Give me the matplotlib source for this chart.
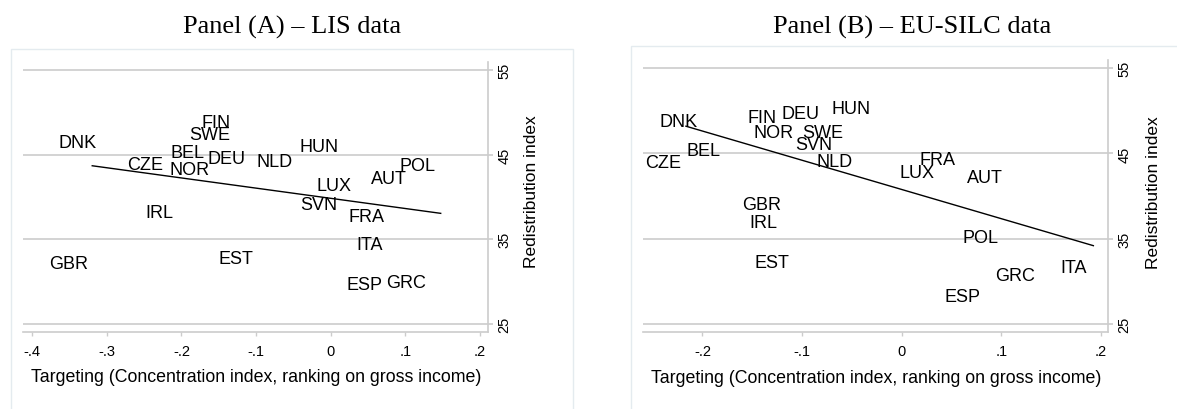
'''
Targeting vs redistribution index, LIS and EU-SILC panels.
'''

import numpy as np
from matplotlib import pyplot as plt
from matplotlib.patches import Rectangle


#(0) Data (label centres):
countries_a = ['FIN','SWE','DNK','BEL','DEU','NLD','CZE','NOR','IRL','GBR','EST',
               'HUN','POL','AUT','LUX','SVN','FRA','ITA','ESP','GRC']
target_a    = [-0.153,-0.162,-0.339,-0.192,-0.139,-0.075,-0.249,-0.189,-0.230,-0.351,-0.127,
               -0.015, 0.117, 0.078, 0.005,-0.016, 0.048, 0.052, 0.045, 0.101]
redist_a    = [48.8, 47.4, 46.4, 45.3, 44.5, 44.2, 43.8, 43.3, 38.2, 32.2, 32.7,
               46.0, 43.7, 42.2, 41.4, 39.1, 37.7, 34.4, 29.7, 29.9]
fit_x_a     = [-0.3196, 0.1475]
fit_y_a     = [43.69, 38.07]

countries_b = ['DNK','FIN','DEU','HUN','NOR','SWE','SVN','BEL','CZE','NLD','GBR','IRL','EST',
               'FRA','LUX','AUT','POL','ITA','GRC','ESP']
target_b    = [-0.224,-0.140,-0.102,-0.051,-0.129,-0.079,-0.088,-0.199,-0.240,-0.067,-0.141,-0.139,-0.130,
                0.036, 0.015, 0.084, 0.079, 0.173, 0.114, 0.061]
redist_b    = [48.8, 49.2, 49.7, 50.3, 47.5, 47.5, 46.1, 45.3, 44.0, 44.1, 39.0, 36.9, 32.2,
               44.3, 42.8, 42.2, 35.1, 31.6, 30.7, 28.2]
fit_x_b     = [-0.2166, 0.1924]
fit_y_b     = [48.2, 34.19]

xticks_a    = [-0.4, -0.3, -0.2, -0.1, 0, 0.1, 0.2]
xticks_b    = [-0.2, -0.1, 0, 0.1, 0.2]
xlabels_a   = ['-.4', '-.3', '-.2', '-.1', '0', '.1', '.2']
xlabels_b   = ['-.2', '-.1', '0', '.1', '.2']
yticks      = [25, 35, 45, 55]
titles      = ['Panel (A) \u2013 LIS data', 'Panel (B) \u2013 EU-SILC data']
xlab        = 'Targeting (Concentration index, ranking on gross income)'
ylab        = 'Redistribution index'


#(1) Plot:
plt.close('all')
W, H     = 1177, 410
sans     = 'Liberation Sans'
gridc    = '#cccccc'
fig      = plt.figure(figsize=(W/100, H/100), dpi=100)

def px(l, t, r, b):
	return [l/W, 1-b/H, (r-l)/W, (b-t)/H]

axa = fig.add_axes(px(23.3, 63.3, 488.3, 333.3))
axb = fig.add_axes(px(643.3, 60.7, 1108.3, 333.3))

# outer panel boxes
fig.patches.append(Rectangle((11/W, -0.05), (572.7-11)/W, 1.05-50/H, transform=fig.transFigure,
                             fill=False, ec='#e4ebef', lw=1))
fig.patches.append(Rectangle((630.7/W, -0.05), (1200-630.7)/W, 1.05-46.7/H, transform=fig.transFigure,
                             fill=False, ec='#e4ebef', lw=1))

panels = [
	(axa, countries_a, target_a, redist_a, fit_x_a, fit_y_a, xticks_a, xlabels_a, (-0.412, 0.2113), (24.02, 55.91)),
	(axb, countries_b, target_b, redist_b, fit_x_b, fit_y_b, xticks_b, xlabels_b, (-0.2594, 0.2074), (24.03, 56.0)),
]
for ax, names, xs, ys, fx, fy, xt, xtl, xl, yl in panels:
	for n, x, y in zip(names, xs, ys):
		ax.text(x, y, n, ha='center', va='center', size=13, family=sans, color='k')
	ax.plot(fx, fy, color='k', lw=1.0, zorder=3)
	ax.set_xlim(*xl)
	ax.set_ylim(*yl)
	ax.set_xticks(xt)
	ax.set_xticklabels(xtl)
	ax.set_yticks(yticks)
	ax.yaxis.tick_right()
	for s in ['top', 'left']:
		ax.spines[s].set_visible(False)
	for s in ['right', 'bottom']:
		ax.spines[s].set_color(gridc)
		ax.spines[s].set_linewidth(1.2)
	ax.grid(axis='y', color=gridc, lw=1.2)
	ax.tick_params(axis='x', length=3, width=1, color=gridc, pad=5.5, labelsize=10.5)
	ax.tick_params(axis='y', length=3.6, width=1.2, color=gridc, pad=3, labelsize=10.5)
	plt.setp(ax.get_xticklabels() + ax.get_yticklabels(), family=sans)
	plt.setp(ax.get_yticklabels(), rotation=90, va='center')
	ax.set_axisbelow(True)
	ax.text(0.5, -(378-333.3)/270, xlab, transform=ax.transAxes, ha='center', va='center', size=12.8, family=sans)

axa.text(1+(531.7-488.3)/465, (333.3-191.7)/270, ylab, transform=axa.transAxes, rotation=90,
         ha='center', va='center', size=12.5, family=sans)
axb.text(1+(1153-1108.3)/465, (333.3-192.5)/272.6, ylab, transform=axb.transAxes, rotation=90,
         ha='center', va='center', size=12.5, family=sans)

fig.text(291.9/W, 1-27/H, titles[0], ha='center', va='center', size=19, family='Liberation Serif')
fig.text(911.8/W, 1-27/H, titles[1], ha='center', va='center', size=19, family='Liberation Serif')

plt.savefig('out.png', dpi=100)
